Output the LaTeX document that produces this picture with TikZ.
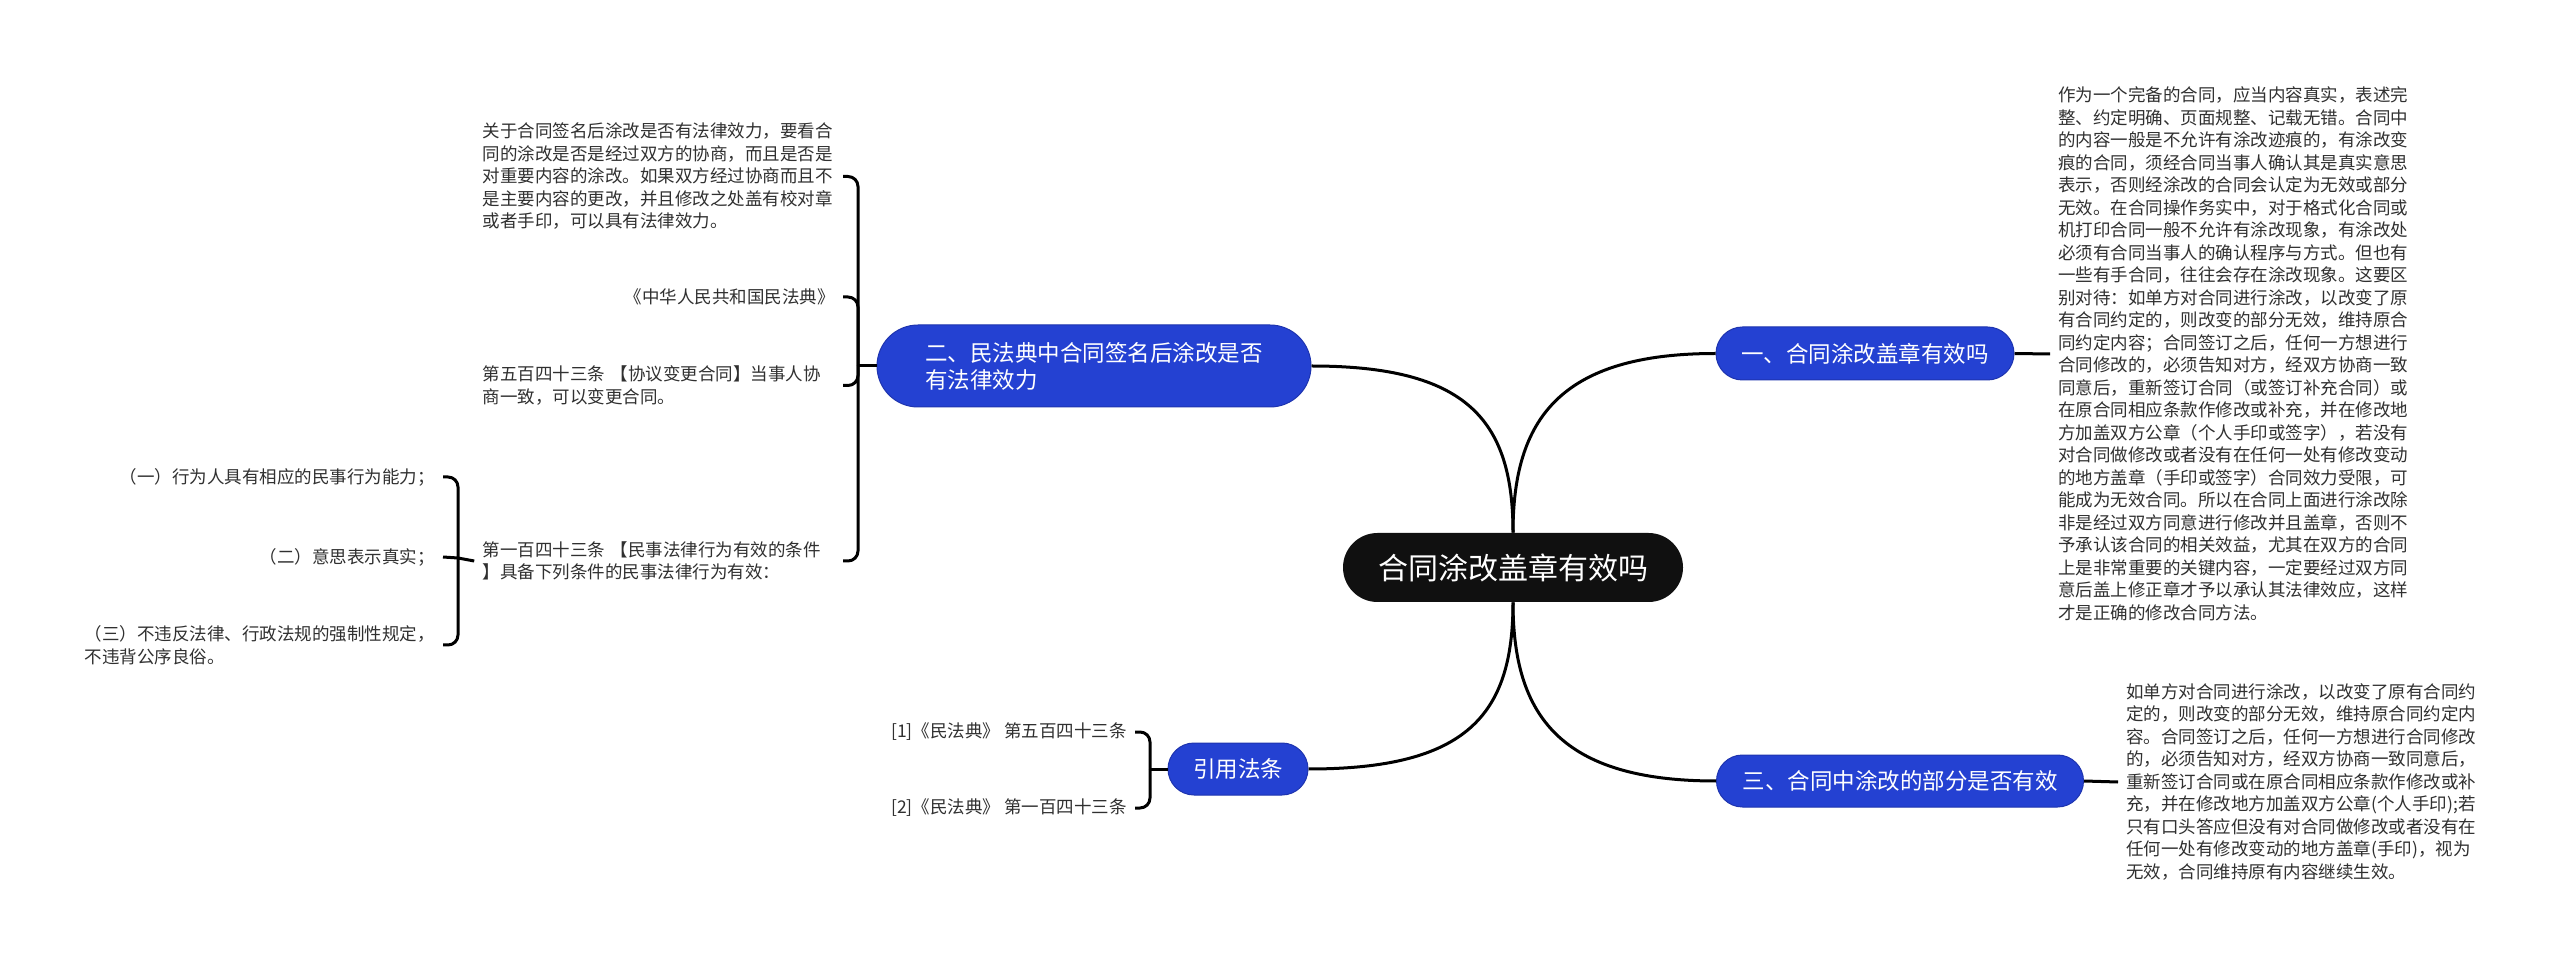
\documentclass[tikz,border=0pt]{standalone}
\usepackage{fontspec}
\setmainfont{Noto Sans CJK SC}
\usetikzlibrary{shapes.misc,calc}
\definecolor{bblue}{RGB}{36,65,210}
\definecolor{bbord}{RGB}{30,52,175}
\definecolor{ink}{RGB}{48,48,48}
\definecolor{rootc}{RGB}{16,16,16}
\tikzset{
  conn/.style={line width=1.5pt, black},
  brace/.style={line width=1.5pt, black, rounded corners=5pt},
  leaf/.style={inner xsep=4pt, inner ysep=0pt, text=ink, font=\fontsize{8.75pt}{11.25pt}\selectfont},
  wideleaf/.style={leaf, text width=176pt, align=left},
  branch/.style={rounded rectangle, fill=bblue, draw=bbord, line width=0.5pt, text=white, inner sep=0pt, font=\fontsize{11.25pt}{13.5pt}\selectfont},
  rootnode/.style={rounded rectangle, fill=rootc, text=white, inner sep=0pt, font=\fontsize{15pt}{18pt}\selectfont}
}
\begin{document}
\begin{tikzpicture}[x=0.5pt,y=-0.5pt]
\fill[white] (0,0) rectangle (2560,967);
\useasboundingbox (0,0) rectangle (2560,967);

% central and branches
\node[rootnode, minimum width=170pt, minimum height=34.5pt] (root) at (1513,567.5) {合同涂改盖章有效吗};
\node[branch, minimum width=149pt, minimum height=26.5pt] (b1) at (1865,353.5) {一、合同涂改盖章有效吗};
\node[branch, minimum width=183.5pt, minimum height=26pt] (b3) at (1900,781) {三、合同中涂改的部分是否有效};
\node[branch, minimum width=217pt, minimum height=41pt, align=left] (b2) at (1094,366) {二、民法典中合同签名后涂改是否\\有法律效力};
\node[branch, minimum width=70pt, minimum height=26pt] (cite) at (1238,769) {引用法条};

% right leaves
\node[wideleaf, anchor=west] (t1) at (2050,354) {作为一个完备的合同，应当内容真实，表述完\\整、约定明确、页面规整、记载无错。合同中\\的内容一般是不允许有涂改迹痕的，有涂改变\\痕的合同，须经合同当事人确认其是真实意思\\表示，否则经涂改的合同会认定为无效或部分\\无效。在合同操作务实中，对于格式化合同或\\机打印合同一般不允许有涂改现象，有涂改处\\必须有合同当事人的确认程序与方式。但也有\\一些有手合同，往往会存在涂改现象。这要区\\别对待：如单方对合同进行涂改，以改变了原\\有合同约定的，则改变的部分无效，维持原合\\同约定内容；合同签订之后，任何一方想进行\\合同修改的，必须告知对方，经双方协商一致\\同意后，重新签订合同（或签订补充合同）或\\在原合同相应条款作修改或补充，并在修改地\\方加盖双方公章（个人手印或签字），若没有\\对合同做修改或者没有在任何一处有修改变动\\的地方盖章（手印或签字）合同效力受限，可\\能成为无效合同。所以在合同上面进行涂改除\\非是经过双方同意进行修改并且盖章，否则不\\予承认该合同的相关效益，尤其在双方的合同\\上是非常重要的关键内容，一定要经过双方同\\意后盖上修正章才予以承认其法律效应，这样\\才是正确的修改合同方法。};
\node[wideleaf, anchor=west] (t3) at (2118,782) {如单方对合同进行涂改，以改变了原有合同约\\定的，则改变的部分无效，维持原合同约定内\\容。合同签订之后，任何一方想进行合同修改\\的，必须告知对方，经双方协商一致同意后，\\重新签订合同或在原合同相应条款作修改或补\\充，并在修改地方加盖双方公章(个人手印);若\\只有口头答应但没有对合同做修改或者没有在\\任何一处有修改变动的地方盖章(手印)，视为\\无效，合同维持原有内容继续生效。};

% left leaves of branch two
\node[wideleaf, anchor=east] (l1) at (843,176.5) {关于合同签名后涂改是否有法律效力，要看合\\同的涂改是否是经过双方的协商，而且是否是\\对重要内容的涂改。如果双方经过协商而且不\\是主要内容的更改，并且修改之处盖有校对章\\或者手印，可以具有法律效力。};
\node[leaf, text width=176pt, align=right, anchor=east] (l2) at (843,297) {《中华人民共和国民法典》};
\node[wideleaf, anchor=east] (l3) at (843,385.5) {第五百四十三条 【协议变更合同】当事人协\\商一致，可以变更合同。};
\node[wideleaf, anchor=east] (l4) at (843,561) {第一百四十三条 【民事法律行为有效的条件\\】具备下列条件的民事法律行为有效：};

% children of l4
\node[leaf, anchor=east] (c1) at (443,477) {（一）行为人具有相应的民事行为能力；};
\node[leaf, anchor=east] (c2) at (443,557) {（二）意思表示真实；};
\node[leaf, anchor=east, align=left] (c3) at (443,645) {（三）不违反法律、行政法规的强制性规定，\\不违背公序良俗。};

% citations
\node[leaf, anchor=east] (r1) at (1135,732) {[1]《民法典》 第五百四十三条};
\node[leaf, anchor=east] (r2) at (1135,808) {[2]《民法典》 第一百四十三条};

% join points
\coordinate (j2) at (858,366);
\coordinate (j4) at (458,558);
\coordinate (jc) at (1150,769);

% main connectors
\draw[conn] (root.north) .. controls +(0,-113) and +(-156,0) .. (b1.west);
\draw[conn] (root.north) .. controls +(0,-113) and +(155,0) .. (b2.east);
\draw[conn] (root.south) .. controls +(0,113) and +(-156,0) .. (b3.west);
\draw[conn] (root.south) .. controls +(0,113) and +(158,0) .. (cite.east);

\draw[conn] (b1.east) -- (t1.west);
\draw[conn] (b3.east) -- (t3.west);

% brace of branch two
\draw[brace] (b2.west) -- (j2);
\draw[brace] (j2) |- (l1.east);
\draw[brace] (j2) |- (l2.east);
\draw[brace] (j2) |- (l3.east);
\draw[brace] (j2) |- (l4.east);

% brace of l4
\draw[brace] (l4.west) -- (j4);
\draw[brace] (j4) |- (c1.east);
\draw[brace] (j4) -- (c2.east);
\draw[brace] (j4) |- (c3.east);

% brace of citations
\draw[brace] (cite.west) -- (jc);
\draw[brace] (jc) |- (r1.east);
\draw[brace] (jc) |- (r2.east);
\end{tikzpicture}
\end{document}
